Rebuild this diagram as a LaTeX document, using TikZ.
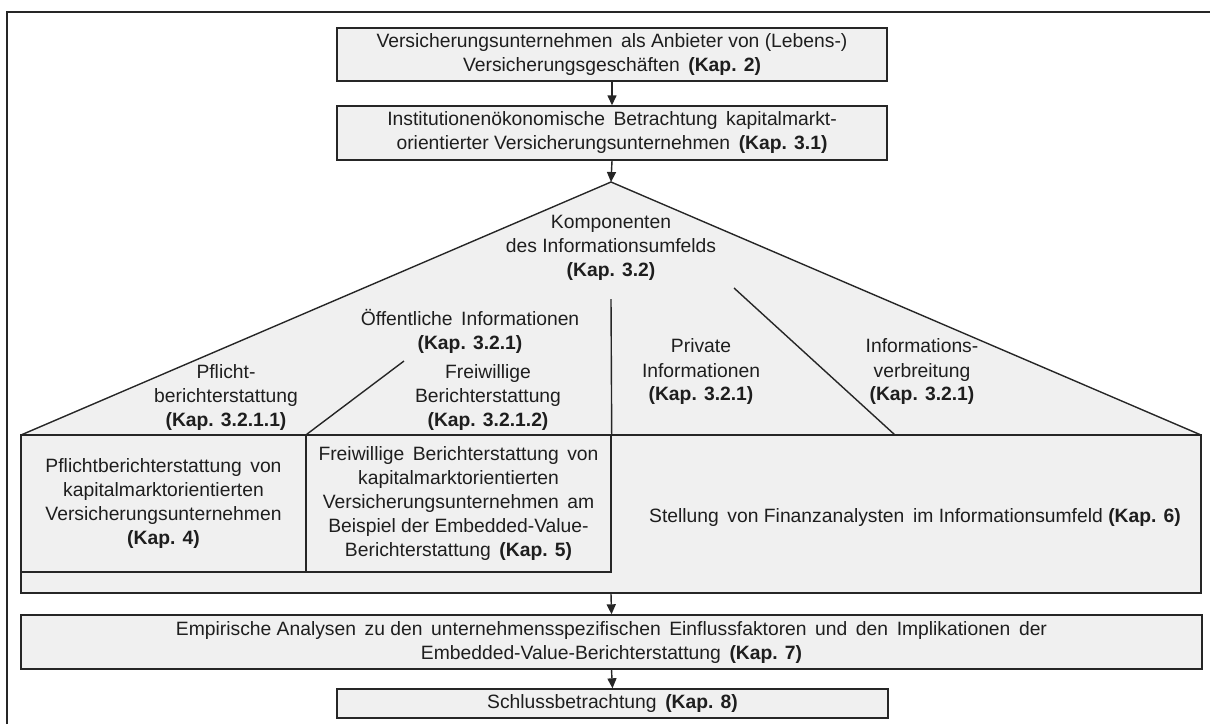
\documentclass[tikz,border=0pt]{standalone}
\usepackage{fontspec}
\setmainfont{Liberation Sans}
\usetikzlibrary{arrows.meta}
\definecolor{linecol}{HTML}{262626}
\definecolor{boxfill}{HTML}{F0F0F0}
\definecolor{txt}{HTML}{1E1E1E}
\newcommand\myfs{\fontsize{19.3}{24}\selectfont}
\begin{document}
\begin{tikzpicture}[x=1pt,y=-1pt,
  box/.style={draw=linecol, fill=boxfill, line width=1.4pt, inner sep=0pt, align=center, font=\myfs, text=txt},
  lbl/.style={inner sep=0pt, align=center, font=\myfs, text=txt},
  ln/.style={draw=linecol, line width=1.4pt},
  arr/.style={draw=linecol, line width=1.4pt, -{Triangle[length=10pt,width=9pt]}}]
\useasboundingbox (0,0) rectangle (1210,724);
% outer frame
\draw[ln] (7,724) -- (7,12) -- (1210,12);
% top boxes
\node[box, minimum width=550pt, minimum height=53pt] (b1) at (612,54.5)
  {Versicherungsunternehmen\, als Anbieter von (Lebens-)\\Versicherungsgeschäften\, \textbf{(Kap. 2)}};
\node[box, minimum width=550pt, minimum height=54pt] (b2) at (612,133)
  {Institutionenökonomische\, Betrachtung\, kapitalmarkt-\\orientierter Versicherungsunternehmen\, \textbf{(Kap. 3.1)}};
% triangle
\coordinate (apex) at (611,182);
\coordinate (tl) at (21,435);
\coordinate (tr) at (1201,435);
\fill[boxfill] (tl) -- (apex) -- (tr) -- cycle;
\draw[ln] (tl) -- (apex) -- (tr);
% container
\node[box, minimum width=1180pt, minimum height=158pt] (cont) at (611,514) {};
\node[box, minimum width=285pt, minimum height=137pt] (pf) at (163.5,503.5)
  {Pflichtberichterstattung\, von\\kapitalmarktorientierten\\Versicherungsunternehmen\\\textbf{(Kap. 4)}};
\node[box, minimum width=305pt, minimum height=137pt] (fw) at (458.5,503.5)
  {Freiwillige\, Berichterstattung\, von\\kapitalmarktorientierten\\Versicherungsunternehmen\, am\\Beispiel der Embedded-Value-\\Berichterstattung\, \textbf{(Kap. 5)}};
\node[lbl] (k6) at (915,517) {Stellung\, von Finanzanalysten\, im Informationsumfeld \textbf{(Kap. 6)}};
% dividing lines in triangle
\coordinate (vtop) at (611,299);
\draw[ln] (vtop) -- (fw.north east);
\coordinate (d1) at (404,361);
\draw[ln] (d1) -- (pf.north east);
\coordinate (d2a) at (734,288);
\coordinate (d2b) at (895,435);
\draw[ln] (d2a) -- (d2b);
% triangle labels
\node[lbl] (komp) at (611,248) {Komponenten\\des Informationsumfelds\\\textbf{(Kap. 3.2)}};
\node[lbl] (oeff) at (470,331) {Öffentliche\, Informationen\\\textbf{(Kap. 3.2.1)}};
\node[lbl] (pfl) at (226,397) {Pflicht-\\berichterstattung\\\textbf{(Kap. 3.2.1.1)}};
\node[lbl] (frw) at (488,397) {Freiwillige\\Berichterstattung\\\textbf{(Kap. 3.2.1.2)}};
\node[lbl] (priv) at (701,372) {Private\\Informationen\\\textbf{(Kap. 3.2.1)}};
\node[lbl] (verb) at (922,372) {Informations-\\verbreitung\\\textbf{(Kap. 3.2.1)}};
% bottom boxes
\node[box, minimum width=1181pt, minimum height=54pt] (b7) at (611.5,642)
  {Empirische Analysen\, zu den\, unternehmensspezifischen\, Einflussfaktoren\, und\, den\, Implikationen\, der\\Embedded-Value-Berichterstattung\, \textbf{(Kap. 7)}};
\node[box, minimum width=551pt, minimum height=29pt] (b8) at (612.5,703.5)
  {Schlussbetrachtung\, \textbf{(Kap. 8)}};
% arrows
\draw[arr] (b1.south) -- (b2.north);
\draw[arr] (b2.south) -- (apex);
\draw[arr] (cont.south) -- (b7.north);
\draw[arr] (b7.south) -- (b8.north);
\end{tikzpicture}
\end{document}
